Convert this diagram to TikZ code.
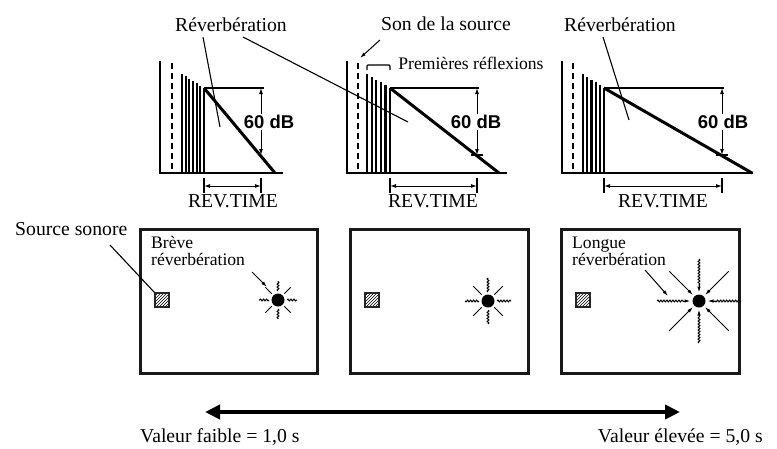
\documentclass[tikz,border=0pt]{standalone}
\usepackage{fontspec}
\setmainfont{Liberation Serif}
\newfontfamily\hvfont{Liberation Sans}
\usetikzlibrary{arrows.meta,patterns,decorations.pathmorphing}
\begin{document}
\begin{tikzpicture}[x=1pt,y=-1pt,
  lbl/.style={inner sep=0pt, font=\fontsize{19.7}{20}\selectfont},
  slbl/.style={inner sep=0pt, font=\fontsize{17.6}{16.5}\selectfont, align=left},
  db/.style={fill=white, inner sep=1pt, font=\hvfont\bfseries\fontsize{18.5}{19}\selectfont},
  thinl/.style={line width=1.1pt},
  axisl/.style={line width=1.4pt},
  barl/.style={line width=2.2pt},
  decay/.style={line width=3pt},
  dsh/.style={line width=2.2pt, dash pattern=on 6pt off 4pt},
  dim/.style={line width=1pt, {Latex[length=6pt,width=4pt]}-{Latex[length=6pt,width=4pt]}},
  ptr/.style={line width=1pt, -{Latex[length=6pt,width=3.5pt]}},
  room/.style={line width=3pt, draw=black!90},
  src/.style={draw=black!85, line width=1.2pt, pattern=north east lines, minimum size=14pt, inner sep=0pt},
  dot/.style={circle, fill=black, minimum size=13pt, inner sep=0pt},
  wavy/.style={decorate, decoration={snake, amplitude=0.9pt, segment length=3pt}},
  ray/.style={line width=1pt},
  big/.style={line width=4.2pt, {Triangle[length=15pt,width=14pt]}-{Triangle[length=15pt,width=14pt]}},
]
\useasboundingbox (0,0) rectangle (777,448);

% ---------- Graph 1 ----------
\draw[axisl] (160,61) -- (160,173) -- (283,173);
\draw[dsh] (172,63) -- (172,173);
\foreach \i in {0,...,6} \draw[barl] ({182+\i*22/6},{74+\i*14/6}) -- ({182+\i*22/6},173);
\draw[decay] (204,88) -- (275,173);
\draw[thinl] (204,88) -- (264,88);
\coordinate (g1t) at (261,88); \coordinate (g1b) at (261,155);
\draw[dim] (g1t) -- (g1b);
\node[db] (db1) at (269,122) {60 dB};
\draw[thinl] (204,178) -- (204,193);
\draw[thinl] (261,178) -- (261,193);
\coordinate (rt1l) at (204,186); \coordinate (rt1r) at (261,186);
\draw[dim] (rt1l) -- (rt1r);
\node[lbl, anchor=base] (rt1) at (233,207) {REV.TIME};

% ---------- Graph 2 ----------
\draw[axisl] (347,61) -- (347,173) -- (507,173);
\draw[dsh] (358,63) -- (358,173);
\foreach \i in {0,...,5} \draw[barl] ({367+\i*23/5},{74+\i*14/5}) -- ({367+\i*23/5},173);
\draw[decay] (390,88) -- (499,173);
\draw[thinl] (390,88) -- (479,88);
\coordinate (g2t) at (477,88); \coordinate (g2b) at (477,155);
\draw[dim] (g2t) -- (g2b);
\draw[thinl] (471,155) -- (483,155);
\node[db] (db2) at (476,122) {60 dB};
\draw[thinl] (390,178) -- (390,193);
\draw[thinl] (477,178) -- (477,193);
\coordinate (rt2l) at (390,186); \coordinate (rt2r) at (477,186);
\draw[dim] (rt2l) -- (rt2r);
\node[lbl, anchor=base] (rt2) at (433,207) {REV.TIME};
\draw[thinl, rounded corners=1pt] (367,70) -- (367,65) -- (390,65) -- (390,70);

% ---------- Graph 3 ----------
\draw[axisl] (562,61) -- (562,173) -- (753,173);
\draw[dsh] (573,63) -- (573,173);
\foreach \i in {0,...,5} \draw[barl] ({583+\i*21/5},{74+\i*14/5}) -- ({583+\i*21/5},173);
\draw[decay] (604,88) -- (752,173);
\draw[thinl] (604,88) -- (724,88);
\coordinate (g3t) at (722,88); \coordinate (g3b) at (722,155);
\draw[dim] (g3t) -- (g3b);
\draw[thinl] (716,155) -- (728,155);
\node[db] (db3) at (723,122) {60 dB};
\draw[thinl] (604,178) -- (604,193);
\draw[thinl] (722,178) -- (722,193);
\coordinate (rt3l) at (604,186); \coordinate (rt3r) at (722,186);
\draw[dim] (rt3l) -- (rt3r);
\node[lbl, anchor=base] (rt3) at (663,207) {REV.TIME};

% ---------- top labels ----------
\node[lbl, anchor=base] (rev1) at (231,31) {Réverbération};
\node[lbl, anchor=base] (son) at (446,30) {Son de la source};
\node[slbl, anchor=base] (prem) at (471,69) {Premières réflexions};
\node[lbl, anchor=base] (rev3) at (620,31) {Réverbération};
\coordinate (r1a) at (203,37); \coordinate (r1b) at (220,127);
\coordinate (r2a) at (243,37); \coordinate (r2b) at (408,122);
\coordinate (r3a) at (603,37); \coordinate (r3b) at (629,120);
\coordinate (sa) at (380,40); \coordinate (sb) at (360,58);
\draw[thinl] (r1a) -- (r1b);
\draw[thinl] (r2a) -- (r2b);
\draw[thinl] (r3a) -- (r3b);
\draw[ptr] (sa) -- (sb);

% ---------- rooms ----------
\draw[room] (140,229) rectangle (317,373);
\draw[room] (350,229) rectangle (528,373);
\draw[room] (561,229) rectangle (739,373);

\node[src] (q1) at (162,300) {};
\node[src] (q2) at (372,300) {};
\node[src] (q3) at (583,300) {};

\node[dot] (s1) at (278,300) {};
\node[dot] (s2) at (488,301) {};
\node[dot] (s3) at (699,301) {};

\foreach \a in {0,90,180,270} \draw[ray,wavy,shift={(s1)}] (\a:9) -- (\a:19);
\foreach \a in {45,135,225,315} \draw[ray,shift={(s1)}] (\a:9) -- (\a:18);
\foreach \a in {0,90,180,270} \draw[ray,wavy,shift={(s2)}] (\a:9) -- (\a:23);
\foreach \a in {45,135,225,315} \draw[ray,shift={(s2)}] (\a:9) -- (\a:21);
\foreach \a in {0,90,180,270} {
  \draw[ray,wavy,shift={(s3)}] (\a:42) -- (\a:15);
  \draw[ptr,shift={(s3)}] (\a:16) -- (\a:8.5);
}
\foreach \a in {45,135,225,315} \draw[ptr,shift={(s3)}] (\a:42) -- (\a:8.5);

\node[lbl, anchor=base west] (srcl) at (15,235) {Source sonore};
\coordinate (sl) at (110,245);
\draw[thinl] (sl) -- (q1.north west);

\node[slbl, anchor=base west] (breve) at (151,265) {Brève\\réverbération};
\coordinate (b1a) at (252,272); \coordinate (b1b) at (267,287);
\draw[ptr] (b1a) -- (b1b);
\node[slbl, anchor=base west] (longue) at (572,265) {Longue\\réverbération};
\coordinate (b3a) at (645,270); \coordinate (b3b) at (668,296);
\draw[ptr] (b3a) -- (b3b);

% ---------- bottom scale ----------
\coordinate (la) at (205,412); \coordinate (ra) at (680,412);
\draw[big] (la) -- (ra);
\node[lbl, anchor=base west] (vf) at (140,442) {Valeur faible = 1,0 s};
\node[lbl, anchor=base east] (ve) at (763,442) {Valeur élevée = 5,0 s};
\end{tikzpicture}
\end{document}
